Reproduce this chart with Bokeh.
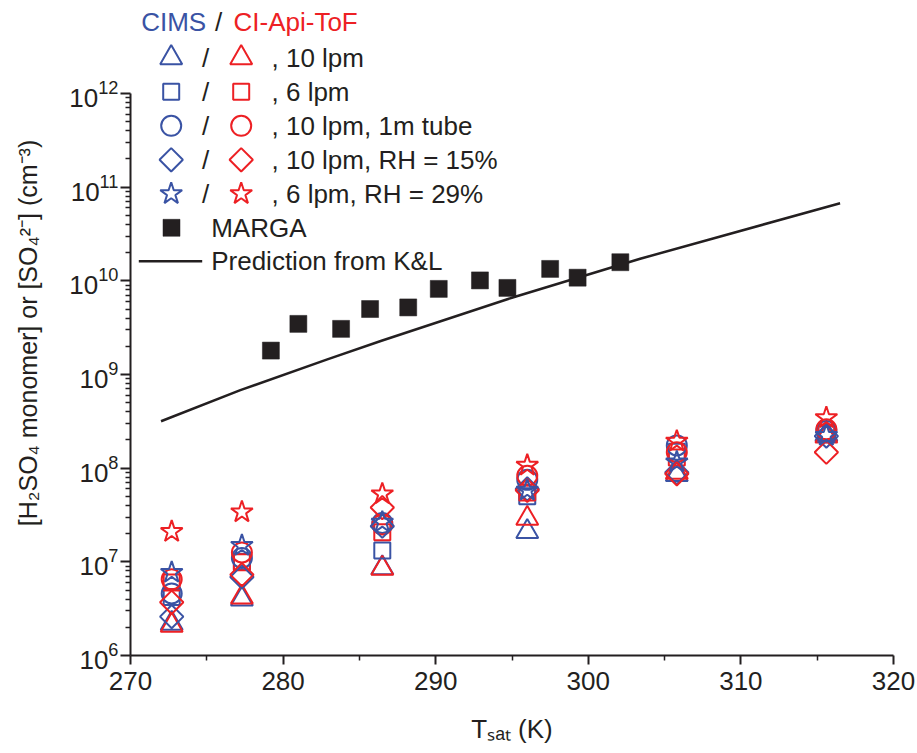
import math
from bokeh.plotting import figure
from bokeh.models import Range1d, LinearScale, Label, FixedTicker
from bokeh.embed import file_html
from bokeh.resources import INLINE

# ---------------- data ----------------
t_sat = [272.7, 277.3, 286.5, 296.0, 305.8, 315.6]

cims_tri = [2.2e6, 4.0e6, 8.6e6, 2.1e7, 8.5e7, 2.3e8]
cims_sq = [4.2e6, 1.0e7, 1.32e7, 5.0e7, 1.5e8, 2.3e8]
cims_circ = [4.6e6, 1.1e7, 2.6e7, 7.5e7, 1.75e8, 2.5e8]
cims_dia = [2.6e6, 6.9e6, 2.4e7, 6.0e7, 9.0e7, 2.2e8]
cims_star = [7.7e6, 1.49e7, 2.65e7, 5.8e7, 1.16e8, 2.23e8]

api_tri = [2.1e6, 4.2e6, 8.5e6, 2.9e7, 9.0e7, 2.2e8]
api_sq = [6.0e6, 9.9e6, 2.07e7, 5.5e7, 1.3e8, 2.4e8]
api_circ = [6.5e6, 1.26e7, 2.5e7, 8.3e7, 1.48e8, 2.6e8]
api_dia = [3.7e6, 7.3e6, 3.8e7, 5.8e7, 8.7e7, 1.48e8]
api_star = [2.1e7, 3.4e7, 5.3e7, 1.07e8, 1.94e8, 3.45e8]

marga_t = [279.2, 281.0, 283.8, 285.7, 288.2, 290.2, 292.9, 294.7, 297.5, 299.3, 302.1]
marga_so4 = [1.80e9, 3.47e9, 3.07e9, 5.0e9, 5.2e9, 8.2e9, 1.01e10, 8.4e9, 1.34e10, 1.08e10, 1.58e10]

kl_t = [272.0, 277.2, 282.9, 286.4, 295.1, 303.4, 316.5]
kl_h2so4 = [3.17e8, 6.8e8, 1.45e9, 2.28e9, 6.68e9, 1.72e10, 6.74e10]

x_ticks = [270, 280, 290, 300, 310, 320]
y_ticks = [1e6, 1e7, 1e8, 1e9, 1e10, 1e11, 1e12]

legend_labels = [", 10 lpm", ", 6 lpm", ", 10 lpm, 1m tube", ", 10 lpm, RH = 15%", ", 6 lpm, RH = 29%"]

# ---------------- style / layout ----------------
FONT = "Liberation Sans"
BLUE = "#3A53A4"
RED = "#ED2024"
BLACK = "#231F20"
FS = "26px"

W, H = 916, 752
B_LEFT, B_RIGHT, B_TOP, B_BOTTOM = 130, 23, 10, 97
FRAME_W = W - B_LEFT - B_RIGHT
FRAME_H = H - B_TOP - B_BOTTOM
DECADE_PX = 93.67
y_top = 10 ** (6 + FRAME_H / DECADE_PX)

p = figure(width=W, height=H, output_backend="svg", toolbar_location=None, title=None,
           y_axis_type="log", x_range=(270, 320), y_range=(1e6, y_top),
           min_border_left=B_LEFT, min_border_right=B_RIGHT,
           min_border_top=B_TOP, min_border_bottom=B_BOTTOM)
p.outline_line_color = None
p.grid.visible = False
p.background_fill_color = "white"
p.border_fill_color = "white"

# pixel ranges for the hand-built legend
p.extra_x_ranges = {"px": Range1d(0, FRAME_W)}
p.extra_y_ranges = {"px": Range1d(0, FRAME_H)}
p.extra_x_scales = {"px": LinearScale()}
p.extra_y_scales = {"px": LinearScale()}

# axes
x_minor = [(a + b) / 2 for a, b in zip(x_ticks[:-1], x_ticks[1:])]
y_minor = [m * t for t in y_ticks[:-1] for m in range(2, 10)]
p.xaxis.ticker = FixedTicker(ticks=x_ticks, minor_ticks=x_minor)
p.yaxis.ticker = FixedTicker(ticks=y_ticks, minor_ticks=y_minor)
p.yaxis.bounds = (y_ticks[0], y_ticks[-1])

for ax in (p.xaxis[0], p.yaxis[0]):
    ax.axis_line_width = 2
    ax.axis_line_color = BLACK
    ax.major_tick_line_color = BLACK
    ax.minor_tick_line_color = BLACK
    ax.major_tick_line_width = 2
    ax.minor_tick_line_width = 1.5
    ax.major_tick_in = 0
    ax.minor_tick_in = 0
    ax.major_label_text_font = FONT
    ax.major_label_text_font_size = FS
    ax.major_label_text_color = BLACK
    ax.axis_label_text_font = FONT
    ax.axis_label_text_font_size = FS
    ax.axis_label_text_font_style = "normal"
    ax.axis_label_text_color = BLACK

p.yaxis.axis_label_text_font_size = "25px"
p.xaxis.major_tick_out = 9
p.xaxis.minor_tick_out = 5
p.yaxis.major_tick_out = 10
p.yaxis.minor_tick_out = 5
p.xaxis.major_label_standoff = 7
p.yaxis.major_label_standoff = 2
p.xaxis.axis_label = "Tₛₐₜ (K)"
p.yaxis.axis_label = "[H₂SO₄ monomer] or [SO₄²⁻] (cm⁻³)"
p.xaxis.axis_label_standoff = 21
p.yaxis.axis_label_standoff = 24

# ---------------- data marks ----------------
series = [
    ("triangle", cims_tri, api_tri, 22, 0.0),
    ("square", cims_sq, api_sq, 16, 0.0),
    ("circle", cims_circ, api_circ, 20, 0.0),
    ("square", cims_dia, api_dia, 16.5, math.pi / 4),
    ("star", cims_star, api_star, 23, 0.0),
]

p.line(kl_t, kl_h2so4, line_color=BLACK, line_width=2.5)
p.scatter(marga_t, marga_so4, marker="square", size=17, fill_color=BLACK, line_color=BLACK, line_width=0.5)

for marker, cims, api, size, ang in series:
    for vals, col in ((cims, BLUE), (api, RED)):
        p.scatter(t_sat, vals, marker=marker, size=size, angle=ang,
                  fill_alpha=0, line_color=col, line_width=2)

# ---------------- legend (built by hand) ----------------
ROW = 34.0
ROW0 = 597.7           # px above frame bottom of first row
X_BLUE, X_SLASH, X_RED, X_TEXT = 40.7, 75.0, 110.7, 141.0

def lbl(x, y, text, color=BLACK, align="left"):
    p.add_layout(Label(x=x, y=y, x_range_name="px", y_range_name="px", text=text,
                       text_font=FONT, text_font_size=FS, text_color=color,
                       text_align=align, text_baseline="middle"))

lbl(10.7, 633.3, "CIMS", BLUE)
lbl(88.0, 633.3, "/", BLACK, "center")
lbl(103.0, 633.3, "CI-Api-ToF", RED)

for i, (marker, cims, api, size, ang) in enumerate(series):
    ry = ROW0 - i * ROW
    p.scatter([X_BLUE], [ry], x_range_name="px", y_range_name="px", marker=marker, size=size,
              angle=ang, fill_alpha=0, line_color=BLUE, line_width=2)
    p.scatter([X_RED], [ry], x_range_name="px", y_range_name="px", marker=marker, size=size,
              angle=ang, fill_alpha=0, line_color=RED, line_width=2)
    lbl(X_SLASH, ry, "/", BLACK, "center")
    lbl(X_TEXT, ry, legend_labels[i])

ry_m = ROW0 - 5 * ROW
ry_l = ry_m - 33.4
p.scatter([41.0], [ry_m], x_range_name="px", y_range_name="px", marker="square", size=17,
          fill_color=BLACK, line_color=BLACK, line_width=0.5)
lbl(80.7, ry_m, "MARGA")
p.line([8.3, 71.7], [ry_l, ry_l], x_range_name="px", y_range_name="px", line_color=BLACK, line_width=2.5)
lbl(80.7, ry_l, "Prediction from K&L")

open("out.html", "w").write(file_html(p, INLINE))
